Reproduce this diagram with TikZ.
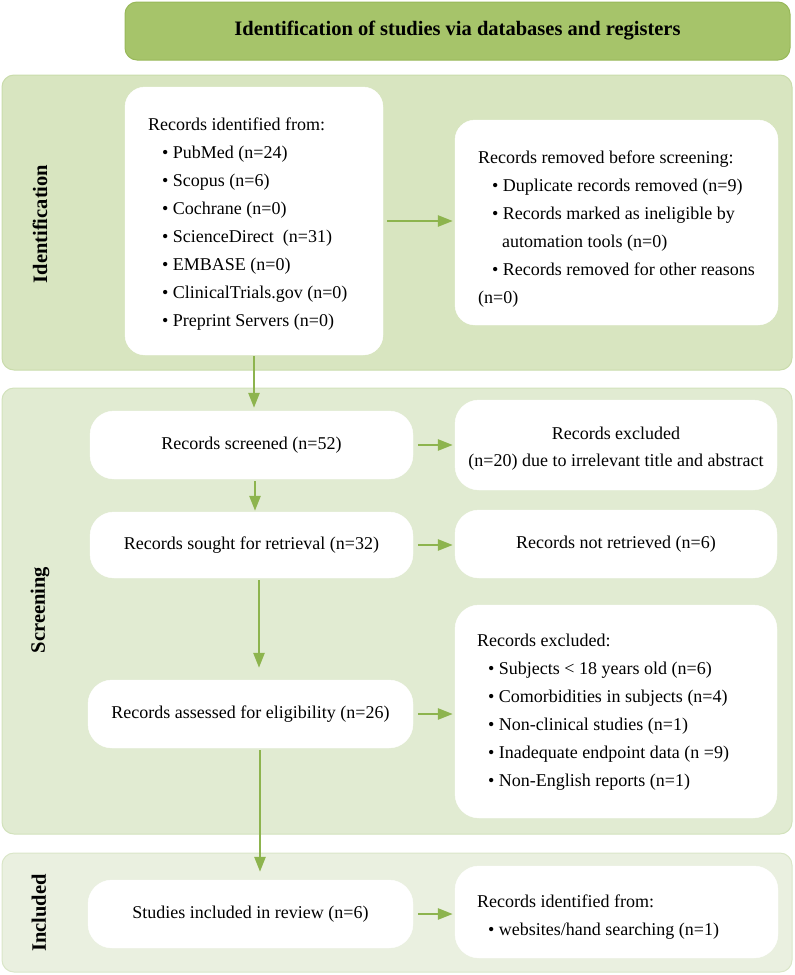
\documentclass[tikz,border=0pt]{standalone}
\usepackage{fontspec}
\setmainfont{Liberation Serif}
\usetikzlibrary{arrows.meta,calc}
\definecolor{hdrfill}{HTML}{A6C46A}
\definecolor{hdrdraw}{HTML}{98B85A}
\definecolor{idfill}{HTML}{D8E5C0}
\definecolor{iddraw}{HTML}{CADCAC}
\definecolor{scrfill}{HTML}{E1EBD2}
\definecolor{scrdraw}{HTML}{D2E2BC}
\definecolor{incfill}{HTML}{EAF0E0}
\definecolor{incdraw}{HTML}{DAE6C8}
\definecolor{arrowc}{HTML}{8DB44E}
\tikzset{
  panel/.style={rounded corners=12pt, line width=1pt, inner sep=0pt},
  wbox/.style={fill=white, draw=white, rounded corners=20pt, inner sep=0pt},
  txt/.style={inner sep=0pt, align=left, font=\fontsize{18}{28}\selectfont},
  ctxt/.style={inner sep=0pt, align=center, font=\fontsize{18}{27}\selectfont},
  lbl/.style={inner sep=0pt, rotate=90, font=\fontsize{20.5}{24}\selectfont\bfseries},
  arr/.style={draw=arrowc, line width=2.6pt, -{Triangle[length=15pt,width=11pt]}},
}
\begin{document}
\begin{tikzpicture}[x=1pt,y=-1pt]
\useasboundingbox (0,0) rectangle (795,975);
% panels
\node[panel, fill=hdrfill, draw=hdrdraw, minimum width=665pt, minimum height=58pt,
      font=\fontsize{20.5}{24}\selectfont\bfseries] (hdr) at (457.5,31)
      {Identification of studies via databases and registers};
\node[panel, fill=idfill, draw=iddraw, minimum width=790pt, minimum height=295pt] (pid) at (397,222.5) {};
\node[panel, fill=scrfill, draw=scrdraw, minimum width=790pt, minimum height=446pt] (pscr) at (397,611) {};
\node[panel, fill=incfill, draw=incdraw, minimum width=790pt, minimum height=119pt] (pinc) at (397,912.5) {};
% side labels
\node[lbl] (lid) at (40,224) {Identification};
\node[lbl] (lscr) at (40,610) {Screening};
\node[lbl] (linc) at (39,913) {Included};
% boxes
\node[wbox, minimum width=258pt, minimum height=268pt] (b1) at (254,221) {};
\node[wbox, minimum width=323pt, minimum height=205pt] (b2) at (616.5,222.5) {};
\node[wbox, minimum width=323pt, minimum height=68pt, rounded corners=24pt] (scr) at (251.5,445)
      {\fontsize{18}{22}\selectfont Records screened (n=52)};
\node[wbox, minimum width=322pt, minimum height=90pt, rounded corners=24pt] (exc1) at (616,445) {};
\node[wbox, minimum width=323pt, minimum height=66pt, rounded corners=24pt] (sgt) at (251.5,545)
      {\fontsize{18}{22}\selectfont Records sought for retrieval (n=32)};
\node[wbox, minimum width=322pt, minimum height=68pt, rounded corners=24pt] (nret) at (616,544)
      {\fontsize{18}{22}\selectfont Records not retrieved (n=6)};
\node[wbox, minimum width=325pt, minimum height=68pt, rounded corners=24pt] (ass) at (250.5,714)
      {\fontsize{18}{22}\selectfont Records assessed for eligibility (n=26)};
\node[wbox, minimum width=322pt, minimum height=213pt, rounded corners=24pt] (exc2) at (616,711.5) {};
\node[wbox, minimum width=325pt, minimum height=68pt, rounded corners=24pt] (inc) at (250.5,914)
      {\fontsize{18}{22}\selectfont Studies included in review (n=6)};
\node[wbox, minimum width=323pt, minimum height=92pt, rounded corners=24pt] (oth) at (616.5,912) {};
% box texts
\node[txt, anchor=north west] (t1) at (148,117.5) {Records identified from:\\
  \hspace*{14pt}\textbullet~PubMed (n=24)\\
  \hspace*{14pt}\textbullet~Scopus (n=6)\\
  \hspace*{14pt}\textbullet~Cochrane (n=0)\\
  \hspace*{14pt}\textbullet~ScienceDirect\ \ (n=31)\\
  \hspace*{14pt}\textbullet~EMBASE (n=0)\\
  \hspace*{14pt}\textbullet~ClinicalTrials.gov (n=0)\\
  \hspace*{14pt}\textbullet~Preprint Servers (n=0)};
\node[txt, anchor=north west] (t2) at (478,150.5) {Records removed before screening:\\
  \hspace*{14pt}\textbullet~Duplicate records removed (n=9)\\
  \hspace*{14pt}\textbullet~Records marked as ineligible by\\
  \hspace*{24pt}automation tools (n=0)\\
  \hspace*{14pt}\textbullet~Records removed for other reasons\\
  (n=0)};
\node[ctxt] (t3) at (616,448.5) {Records excluded\\(n=20) due to irrelevant title and abstract};
\node[txt, anchor=north west] (t4) at (477,633.5) {Records excluded:\\
  \hspace*{11pt}\textbullet~Subjects < 18 years old (n=6)\\
  \hspace*{11pt}\textbullet~Comorbidities in subjects (n=4)\\
  \hspace*{11pt}\textbullet~Non-clinical studies (n=1)\\
  \hspace*{11pt}\textbullet~Inadequate endpoint data (n =9)\\
  \hspace*{11pt}\textbullet~Non-English reports (n=1)};
\node[txt, anchor=north west] (t5) at (477,895) {Records identified from:\\
  \hspace*{11pt}\textbullet~websites/hand searching (n=1)};
% arrows
\draw[arr, shorten <=4pt, shorten >=2pt] (b1.east) -- (b1.east -| b2.west);
\draw[arr, shorten <=1pt, shorten >=3pt] (b1.south) -- (b1.south |- scr.north);
\draw[arr, shorten <=5pt, shorten >=2pt] (scr.east) -- (exc1.west);
\draw[arr, shorten <=2pt, shorten >=1pt] ([xshift=3.5pt]scr.south) -- ([xshift=3.5pt]scr.south |- sgt.north);
\draw[arr, shorten <=5pt, shorten >=2pt] (sgt.east) -- (sgt.east -| nret.west);
\draw[arr, shorten <=2pt, shorten >=12pt] ([xshift=7.5pt]sgt.south) -- ([xshift=7.5pt]sgt.south |- ass.north);
\draw[arr, shorten <=5pt, shorten >=2pt] (ass.east) -- (ass.east -| exc2.west);
\draw[arr, shorten <=2pt, shorten >=8pt] ([xshift=9.5pt]ass.south) -- ([xshift=9.5pt]ass.south |- inc.north);
\draw[arr, shorten <=5pt, shorten >=2pt] (inc.east) -- (inc.east -| oth.west);
\end{tikzpicture}
\end{document}
